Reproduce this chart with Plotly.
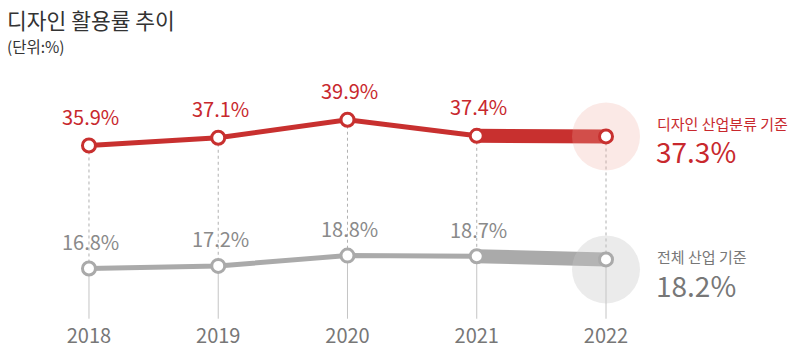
import plotly.graph_objects as go

# ---- data ----
years = [2018, 2019, 2020, 2021, 2022]
year_labels = ["2018", "2019", "2020", "2021", "2022"]
design_rate = [35.9, 37.1, 39.9, 37.4, 37.3]
overall_rate = [16.8, 17.2, 18.8, 18.7, 18.2]
design_label = "디자인 산업분류 기준"
overall_label = "전체 산업 기준"
title_text = "디자인 활용률 추이"
unit_text = "(단위:%)"

# ---- styles ----
FONT = "Noto Sans CJK KR, Noto Sans, sans-serif"
RED = "#c8302f"
RED_TXT = "#c8282d"
GRAY = "#aaaaaa"
GRAY_TXT = "#8a8a8a"
W, H = 796, 362
M_L, M_R, M_T, M_B = 10, 0, 70, 42
Y_RANGE = [8.80, 47.62]
X_RANGE = [2017.389, 2023.47]
BASE = 9.0
plot_h = H - M_T - M_B
px_per_unit = plot_h / (Y_RANGE[1] - Y_RANGE[0])


def pxx(px):
    return (px - M_L) / (W - M_L - M_R)


def pxy(py):
    return (H - M_B - py) / plot_h


fig = go.Figure()

# dashed connectors between series, solid drop lines to base
dx, dy, sx, sy = [], [], [], []
for yr, r, g in zip(years, design_rate, overall_rate):
    dx += [yr, yr, None]
    dy += [r, g, None]
    sx += [yr, yr, None]
    sy += [g, BASE, None]
fig.add_trace(go.Scatter(x=dx, y=dy, mode="lines", line=dict(color="#b0b0b0", width=1, dash="3px,3px"),
                         hoverinfo="skip", showlegend=False))
fig.add_trace(go.Scatter(x=sx, y=sy, mode="lines", line=dict(color="#c4c4c4", width=1),
                         hoverinfo="skip", showlegend=False))

# main lines
for vals, col in ((design_rate, RED), (overall_rate, GRAY)):
    fig.add_trace(go.Scatter(x=years[:4], y=vals[:4], mode="lines", line=dict(color=col, width=5),
                             hoverinfo="skip", showlegend=False))
    fig.add_trace(go.Scatter(x=years[3:], y=vals[3:], mode="lines", line=dict(color=col, width=14),
                             hoverinfo="skip", showlegend=False))

# highlight circles at latest year
fig.add_trace(go.Scatter(x=[years[-1]], y=[design_rate[-1]], mode="markers",
                         marker=dict(size=68, color="rgba(239,167,155,0.25)", line=dict(width=0)),
                         hoverinfo="skip", showlegend=False))
fig.add_trace(go.Scatter(x=[years[-1]], y=[overall_rate[-1] - 10 / px_per_unit], mode="markers",
                         marker=dict(size=68, color="rgba(200,200,200,0.36)", line=dict(width=0)),
                         hoverinfo="skip", showlegend=False))

# point markers
for vals, col in ((design_rate, RED), (overall_rate, GRAY)):
    fig.add_trace(go.Scatter(x=years, y=vals, mode="markers",
                             marker=dict(size=13, color="white", line=dict(color=col, width=3)),
                             hoverinfo="skip", showlegend=False))

annotations = []
for yr, r, g in zip(years[:4], design_rate[:4], overall_rate[:4]):
    annotations.append(dict(x=yr, y=r, text=f"{r:.1f}%", showarrow=False, yshift=29,
                            xshift=2, font=dict(family=FONT, size=20, color=RED_TXT)))
    annotations.append(dict(x=yr, y=g, text=f"{g:.1f}%", showarrow=False, yshift=27,
                            xshift=2, font=dict(family=FONT, size=20, color=GRAY_TXT)))

annotations += [
    dict(xref="paper", yref="paper", x=pxx(655), y=pxy(123), xanchor="left", yanchor="middle",
         text=design_label, showarrow=False, font=dict(family=FONT, size=15, color=RED_TXT)),
    dict(xref="paper", yref="paper", x=pxx(654), y=pxy(151), xanchor="left", yanchor="middle",
         text=f"{design_rate[-1]:.1f}%", showarrow=False, font=dict(family=FONT, size=28, color=RED_TXT)),
    dict(xref="paper", yref="paper", x=pxx(655), y=pxy(256), xanchor="left", yanchor="middle",
         text=overall_label, showarrow=False, font=dict(family=FONT, size=15, color="#777777")),
    dict(xref="paper", yref="paper", x=pxx(654), y=pxy(285), xanchor="left", yanchor="middle",
         text=f"{overall_rate[-1]:.1f}%", showarrow=False, font=dict(family=FONT, size=28, color="#777777")),
    dict(xref="paper", yref="paper", x=pxx(5), y=pxy(19), xanchor="left", yanchor="middle",
         text=title_text, showarrow=False, font=dict(family=FONT, size=21.5, color="#333333")),
    dict(xref="paper", yref="paper", x=pxx(5), y=pxy(46), xanchor="left", yanchor="middle",
         text=unit_text, showarrow=False, font=dict(family=FONT, size=15.5, color="#333333")),
]

fig.update_layout(
    width=W, height=H,
    margin=dict(l=M_L, r=M_R, t=M_T, b=M_B),
    paper_bgcolor="white", plot_bgcolor="white",
    font=dict(family=FONT),
    annotations=annotations,
    xaxis=dict(range=X_RANGE, tickmode="array", tickvals=years, ticktext=year_labels,
               showgrid=False, zeroline=False, showline=False, ticks="",
               tickfont=dict(family=FONT, size=20, color="#777777"), ticklabelstandoff=2),
    yaxis=dict(range=Y_RANGE, visible=False, showgrid=False, zeroline=False),
)

fig.write_html("out.html", config={"displayModeBar": False},
               post_script="document.body.style.margin='0';document.body.style.padding='0';")
